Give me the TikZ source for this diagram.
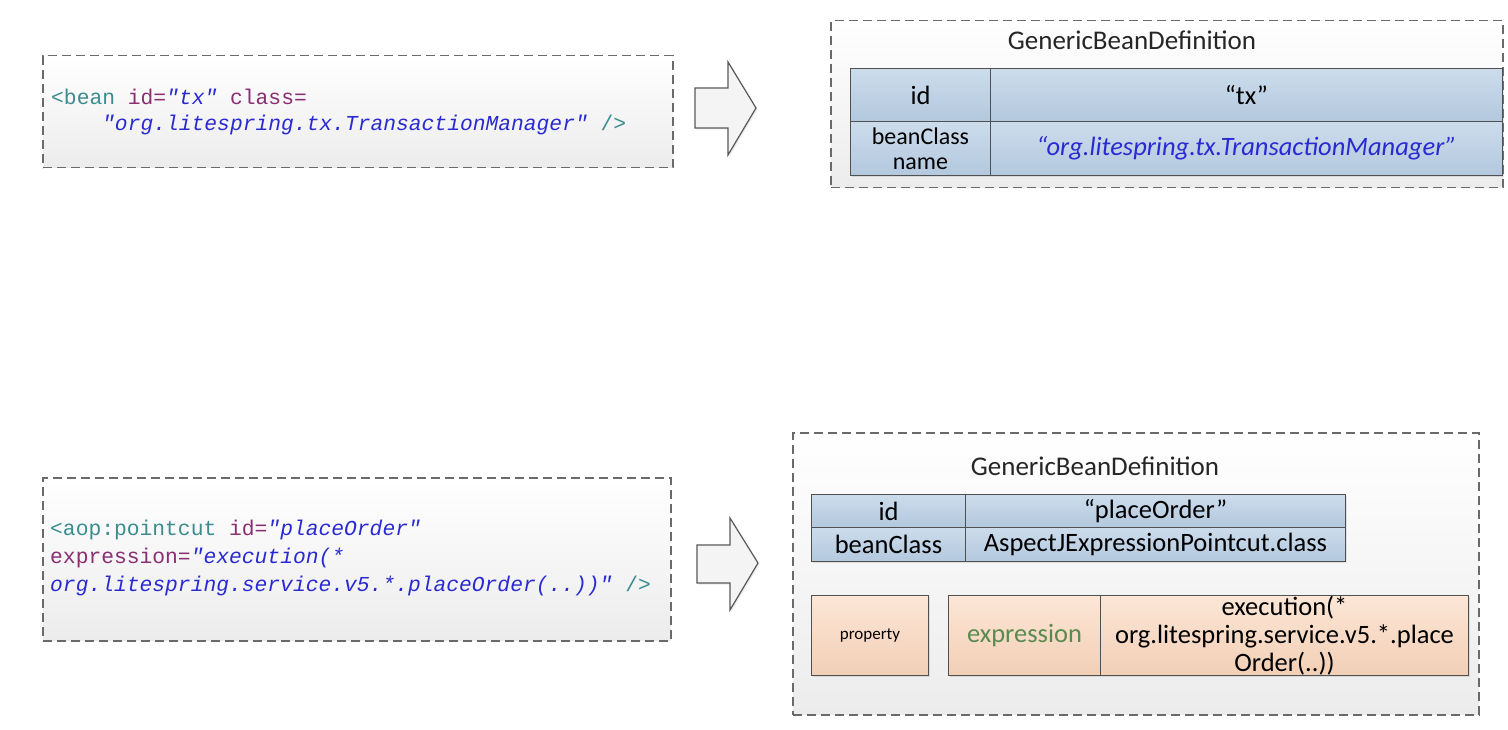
\documentclass[tikz,border=0pt]{standalone}
\usepackage{fontspec}
\setmainfont{Carlito}
\setmonofont{Liberation Mono}
\usetikzlibrary{shadows}

\definecolor{frame}{HTML}{6A6A6A}
\definecolor{panelbot}{HTML}{ECECEC}
\definecolor{xmltag}{HTML}{3A8C8E}
\definecolor{xmlattr}{HTML}{8A2E72}
\definecolor{xmlstr}{HTML}{2A2AD2}
\definecolor{celltop}{HTML}{CCDCEC}
\definecolor{cellbot}{HTML}{B3C8DE}
\definecolor{celledge}{HTML}{505050}
\definecolor{proptop}{HTML}{FCE6D6}
\definecolor{propbot}{HTML}{F2CFB6}
\definecolor{exprgreen}{HTML}{5B8A4F}
\definecolor{arrowfill}{HTML}{F4F4F4}

\tikzset{
  panel/.style={draw=frame, line width=1.5pt, dash pattern=on 9pt off 5pt,
    top color=white, bottom color=panelbot, anchor=north west, inner sep=0pt},
  code/.style={font=\ttfamily\fontsize{21.3}{28}\selectfont, anchor=west, inner sep=0pt},
  title/.style={font=\fontsize{27}{30}\selectfont, text=black!85, inner sep=0pt},
  bluecell/.style={draw=celledge, line width=1pt, top color=celltop, bottom color=cellbot,
    anchor=north west, inner sep=0pt, align=center,
    font=\fontsize{26.5}{26}\selectfont,
    drop shadow={opacity=0.2, shadow xshift=1.5pt, shadow yshift=-1.5pt}},
  propcell/.style={draw=celledge, line width=1pt, top color=proptop, bottom color=propbot,
    anchor=north west, inner sep=0pt, align=center,
    font=\fontsize{26.5}{28}\selectfont,
    drop shadow={opacity=0.2, shadow xshift=1.5pt, shadow yshift=-1.5pt}},
  blockarrow/.style={draw=black!65, line width=1.2pt, fill=arrowfill, line join=miter,
    drop shadow={opacity=0.15, shadow xshift=1.5pt, shadow yshift=-1.5pt}}
}

\newcommand{\xtag}[1]{\textcolor{xmltag}{#1}}
\newcommand{\xattr}[1]{\textcolor{xmlattr}{#1}}
\newcommand{\xstr}[1]{\textcolor{xmlstr}{\itshape #1}}

\begin{document}
\begin{tikzpicture}[x=1pt,y=-1pt]
\useasboundingbox (0,0) rectangle (1508,730);
\fill[white] (0,0) rectangle (1508,730);

% ---------- top row: plain bean ----------
\node[panel, minimum width=630, minimum height=112] (src1) at (42,55) {};
\node[code] (src1a) at (51,97)
  {\xtag{<bean} \xattr{id=}\xstr{"tx"} \xattr{class=}};
\node[code] (src1b) at (102,125)
  {\xstr{"org.litespring.tx.TransactionManager"} \xtag{/>}};

\draw[blockarrow] (695,88) -- (728,88) -- (728,62) -- (756,108)
  -- (728,155) -- (728,128) -- (695,128) -- cycle;

\node[panel, minimum width=672, minimum height=167] (def1) at (830,20) {};
\node[title] (def1t) at (1132,40) {GenericBeanDefinition};
\node[bluecell, minimum width=140, minimum height=53] (idk1) at (850,68) {id};
\node[bluecell, minimum width=512, minimum height=53] (idv1) at (990,68) {“tx”};
\node[bluecell, minimum width=140, minimum height=54, font=\fontsize{24}{25}\selectfont]
  (bck1) at (850,121) {beanClass\\name};
\node[bluecell, minimum width=512, minimum height=54] (bcv1) at (990,121)
  {\textcolor{xmlstr}{\itshape “org.litespring.tx.TransactionManager”}};

% ---------- bottom row: pointcut ----------
\node[panel, minimum width=628, minimum height=163] (src2) at (42,477) {};
\node[code] (src2a) at (50,530)
  {\xtag{<aop:pointcut} \xattr{id=}\xstr{"placeOrder"}};
\node[code] (src2b) at (50,558)
  {\xattr{expression=}\xstr{"execution(*}};
\node[code] (src2c) at (50,586)
  {\xstr{org.litespring.service.v5.*.placeOrder(..))"} \xtag{/>}};

\draw[blockarrow] (697,545) -- (730,545) -- (730,518) -- (758,563)
  -- (730,610) -- (730,583) -- (697,583) -- cycle;

\node[panel, minimum width=686, minimum height=282] (def2) at (792,432) {};
\node[title] (def2t) at (1095,466) {GenericBeanDefinition};
\node[bluecell, minimum width=154, minimum height=33] (idk2) at (811,494) {id};
\node[bluecell, minimum width=380, minimum height=33] (idv2) at (965,494) {“placeOrder”};
\node[bluecell, minimum width=154, minimum height=34] (bck2) at (811,527) {beanClass};
\node[bluecell, minimum width=380, minimum height=34] (bcv2) at (965,527)
  {AspectJExpressionPointcut.class};

\node[propcell, minimum width=117, minimum height=80, font=\fontsize{17}{18}\selectfont]
  (prop) at (811,595) {property};
\node[propcell, minimum width=152, minimum height=80] (pname) at (948,595)
  {\textcolor{exprgreen}{expression}};
\node[propcell, minimum width=368, minimum height=80] (pval) at (1100,595) {};
\node[align=center, inner sep=0pt, font=\fontsize{26.5}{28}\selectfont] (pvalt)
  at (pval.center) {execution(*\\org.litespring.service.v5.*.place\\Order(..))};
\end{tikzpicture}
\end{document}
